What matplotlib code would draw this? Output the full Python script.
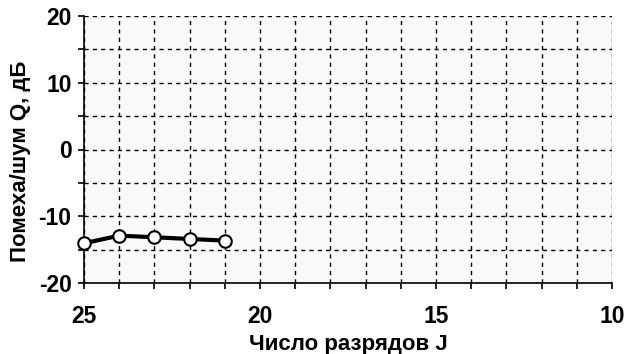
import matplotlib
matplotlib.use("Agg")
import matplotlib.pyplot as plt
from matplotlib.ticker import MultipleLocator, FuncFormatter

J = [25, 24, 23, 22, 21]
Q = [-14.05, -12.9, -13.15, -13.4, -13.65]

plt.rcParams['font.family'] = ['Liberation Sans', 'DejaVu Sans']
plt.rcParams['axes.unicode_minus'] = False
fig = plt.figure(figsize=(6.34, 3.54), dpi=100)
ax = fig.add_axes([84/634, 1-283/354, (612-84)/634, (283-16)/354])
ax.set_facecolor('#f9f9f9')

ax.plot(J, Q, color='black', lw=3, marker='o', ms=9, mfc='white', mec='black', mew=1.5, zorder=5, clip_on=False)

ax.set_xlim(25, 10)
ax.set_ylim(-20, 20)
ax.xaxis.set_major_locator(MultipleLocator(5))
ax.xaxis.set_minor_locator(MultipleLocator(1))
ax.yaxis.set_major_locator(MultipleLocator(10))
ax.yaxis.set_minor_locator(MultipleLocator(5))
fmt = FuncFormatter(lambda v, p: '%d' % round(v))
ax.xaxis.set_major_formatter(fmt)
ax.yaxis.set_major_formatter(fmt)
ax.grid(True, which='both', color='black', ls=(0, (3, 3)), lw=1)
ax.set_axisbelow(True)
for s in ['top', 'right']:
    ax.spines[s].set_visible(False)
for s in ['left', 'bottom']:
    ax.spines[s].set_linewidth(1.2)
ax.tick_params(which='both', direction='out', length=4, width=1.2)
ax.tick_params(axis='x', which='major', pad=12)
ax.tick_params(axis='y', which='major', pad=5)
for lab in ax.get_xticklabels() + ax.get_yticklabels():
    lab.set_fontsize(16.5)
    lab.set_fontweight('bold')
ax.set_xlabel('Число разрядов J', fontsize=16, fontweight='bold')
ax.xaxis.set_label_coords(0.5, -0.19)
ax.set_ylabel('Помеха/шум Q, дБ', fontsize=16, fontweight='bold')
ax.yaxis.set_label_coords(-0.1, 0.455)

fig.savefig('out.png', dpi=100)
